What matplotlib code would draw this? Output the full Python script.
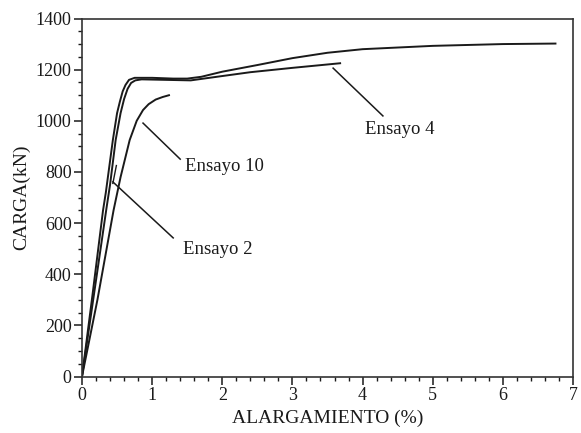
import matplotlib
matplotlib.use("Agg")
import matplotlib.pyplot as plt
from matplotlib.ticker import MultipleLocator

plt.rcParams['font.family'] = ['Liberation Serif', 'DejaVu Serif']

# Data (alargamiento %, carga kN)
e2_x = [0, 0.15, 0.30, 0.34, 0.44, 0.50, 0.54, 0.58, 0.62, 0.67, 0.75, 1.0, 1.3, 1.5, 1.7, 2.0, 2.5, 3.0, 3.5, 4.0, 5.0, 6.0, 6.75]
e2_y = [0, 320, 650, 720, 925, 1030, 1075, 1115, 1140, 1160, 1168, 1168, 1165, 1165, 1172, 1192, 1218, 1245, 1266, 1280, 1293, 1300, 1302]

e4_x = [0, 0.17, 0.35, 0.40, 0.48, 0.55, 0.60, 0.65, 0.70, 0.76, 0.85, 1.2, 1.55, 2.0, 2.4, 3.0, 3.68]
e4_y = [0, 320, 660, 750, 925, 1030, 1085, 1125, 1148, 1158, 1162, 1160, 1158, 1175, 1190, 1207, 1225]

e10_x = [0, 0.22, 0.45, 0.55, 0.68, 0.78, 0.87, 0.95, 1.05, 1.15, 1.24]
e10_y = [0, 300, 650, 780, 925, 1000, 1042, 1065, 1083, 1093, 1100]

labels = ["Ensayo 10", "Ensayo 2", "Ensayo 4"]
label_pos = [(1.47, 822), (1.44, 495), (4.03, 964)]
leader_start = [(0.87, 991), (0.44, 761), (3.58, 1206)]
leader_end = [(1.40, 850), (1.30, 542), (4.29, 1019)]

W, H = 581, 433
fig = plt.figure(figsize=(W / 100, H / 100), dpi=100)
L, R, T, B = 82, 573, 18.5, 376.5
ax = fig.add_axes([L / W, 1 - B / H, (R - L) / W, (B - T) / H])

col = '#1a1a1a'
for xs, ys in [(e2_x, e2_y), (e4_x, e4_y), (e10_x, e10_y)]:
    ax.plot(xs, ys, color=col, lw=1.4, solid_joinstyle='round')

for (sx, sy), (ex, ey) in zip(leader_start, leader_end):
    ax.plot([sx, ex], [sy, ey], color=col, lw=1.1)
# small mark near Ensayo 2 leader
ax.plot([0.44, 0.49], [755, 825], color=col, lw=1.0)

for lab, (tx, ty) in zip(labels, label_pos):
    ax.text(tx, ty, lab, fontsize=13.5, color=col, ha='left', va='center')

ax.set_xlim(0, 7)
ax.set_ylim(0, 1400)
ax.xaxis.set_major_locator(MultipleLocator(1))
ax.xaxis.set_minor_locator(MultipleLocator(0.2))
ax.yaxis.set_major_locator(MultipleLocator(200))
ax.yaxis.set_minor_locator(MultipleLocator(50))
ax.tick_params(which='major', direction='out', length=6, width=1.1, labelsize=13,
               colors=col, pad=1.5)
ax.tick_params(which='minor', direction='out', length=3, width=1.0, colors=col)
ax.tick_params(top=False, right=False, which='both')
for s in ax.spines.values():
    s.set_linewidth(1.2)
    s.set_color('#333333')

ax.set_xlabel("ALARGAMIENTO (%)", fontsize=14, color=col, labelpad=4)
ax.set_ylabel("CARGA(kN)", fontsize=14, color=col, labelpad=4)

fig.savefig("out.png", dpi=100)
